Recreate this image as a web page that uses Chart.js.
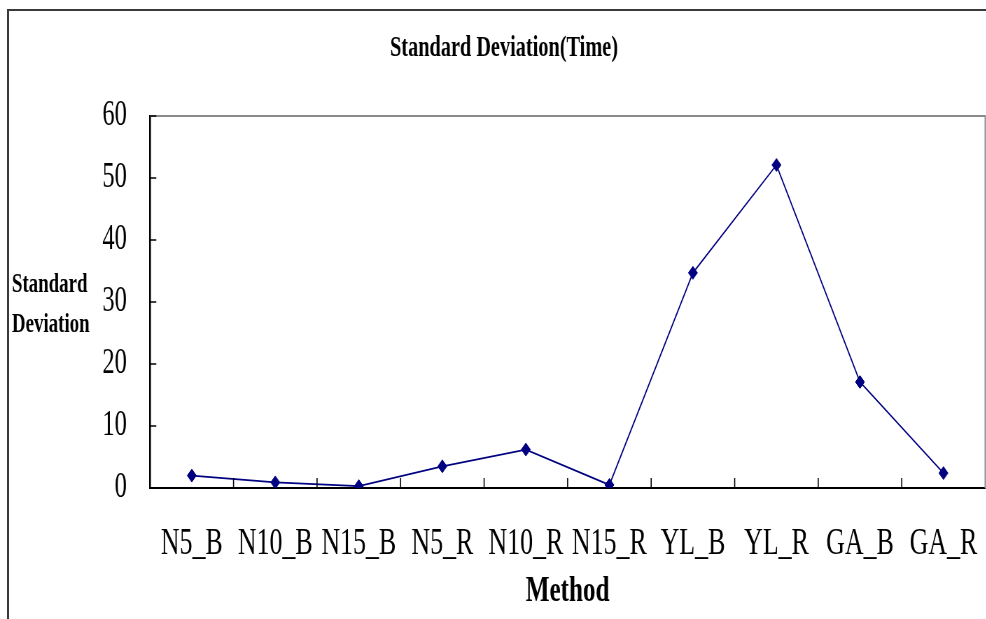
<!DOCTYPE html>
<html>
<head>
<meta charset="utf-8">
<title>Standard Deviation(Time)</title>
<script src="https://cdn.jsdelivr.net/npm/chart.js@4/dist/chart.umd.min.js"></script>
<style>
  html, body { margin: 0; padding: 0; background: #ffffff; }
  body { width: 986px; height: 619px; overflow: hidden; position: relative; }
  #frame {
    position: absolute; left: 7px; top: 9px; width: 1100px; height: 700px;
    border-top: 2px solid #3a3a3a; border-left: 2px solid #3a3a3a;
  }
  #wrap {
    position: absolute; left: 0; top: 0; width: 1415px; height: 619px;
    transform: scaleX(0.7); transform-origin: 0 0;
  }
</style>
</head>
<body>
<div id="frame"></div>
<div id="wrap"><canvas id="chart" width="1415" height="619"></canvas></div>
<script>
// Methods compared along the x axis
const methods = ['N5_B', 'N10_B', 'N15_B', 'N5_R', 'N10_R', 'N15_R', 'YL_B', 'YL_R', 'GA_B', 'GA_R'];
// Standard deviation of the run time for each method
const stdDev = [2.0, 0.9, 0.3, 3.5, 6.2, 0.5, 34.7, 52.1, 17.1, 2.4];
// Value axis range and step
const yMin = 0;
const yMax = 60;
const yStep = 10;

const serif = "'Liberation Serif', 'Times New Roman', serif";

// Grey box on the top and right of the plot, plus short inward tick marks
const plotDecor = {
  id: 'plotDecor',
  afterDraw(chart) {
    const {ctx, chartArea: a, scales} = chart;
    ctx.save();
    ctx.strokeStyle = '#8a8a8a';
    ctx.lineWidth = 2;
    ctx.beginPath();
    ctx.moveTo(a.left, a.top);
    ctx.lineTo(a.right, a.top);
    ctx.lineTo(a.right, a.bottom);
    ctx.stroke();

    ctx.strokeStyle = '#000000';
    ctx.lineWidth = 1.6;
    ctx.beginPath();
    scales.y.ticks.forEach(t => {
      const y = scales.y.getPixelForValue(t.value);
      ctx.moveTo(a.left, y);
      ctx.lineTo(a.left + 9, y);
    });
    for (let i = 1; i < methods.length; i++) {
      const x = scales.x.getPixelForValue(i - 0.5);
      ctx.moveTo(x, a.bottom);
      ctx.lineTo(x, a.bottom - 10);
    }
    ctx.stroke();

    // Horizontal two-line caption of the value axis
    ctx.fillStyle = '#000000';
    ctx.font = 'bold 27px ' + serif;
    ctx.textAlign = 'left';
    ctx.textBaseline = 'alphabetic';
    ctx.fillText('Standard', 17, 292);
    ctx.fillText('Deviation', 17, 332);
    ctx.restore();
  }
};

new Chart(document.getElementById('chart'), {
  type: 'line',
  data: {
    labels: methods,
    datasets: [{
      data: stdDev,
      borderColor: '#000080',
      backgroundColor: '#000080',
      borderWidth: 1.7,
      tension: 0,
      pointStyle: 'rectRot',
      pointRadius: 6.5,
      pointHoverRadius: 6.5,
      pointBackgroundColor: '#000080',
      pointBorderColor: '#000080',
      pointBorderWidth: 1
    }]
  },
  options: {
    responsive: false,
    animation: false,
    devicePixelRatio: 1,
    layout: { padding: { left: 27, right: 2, top: 0, bottom: 0 } },
    plugins: {
      legend: { display: false },
      tooltip: { enabled: false },
      title: {
        display: true,
        text: 'Standard Deviation(Time)',
        color: '#000000',
        font: { family: serif, size: 29, weight: 'bold', lineHeight: 1.2 },
        padding: { top: 31, bottom: 50.2 }
      }
    },
    scales: {
      x: {
        type: 'category',
        offset: true,
        grid: { display: true, drawOnChartArea: false, drawTicks: false, offset: true },
        border: { display: true, color: '#000000', width: 2 },
        ticks: {
          color: '#000000',
          padding: 34,
          maxRotation: 0,
          autoSkip: false,
          font: { family: serif, size: 37, lineHeight: 1.2 }
        },
        title: {
          display: true,
          text: 'Method',
          color: '#000000',
          font: { family: serif, size: 36, weight: 'bold', lineHeight: 1.2 },
          padding: { top: 0, bottom: 6 }
        },
        afterFit(scale) {
          scale.height = 131;
          scale.paddingLeft = 0;
          scale.paddingRight = 0;
        }
      },
      y: {
        min: yMin,
        max: yMax,
        grid: { display: true, drawOnChartArea: false, drawTicks: false },
        border: { display: true, color: '#000000', width: 2.6 },
        ticks: {
          stepSize: yStep,
          color: '#000000',
          padding: 33,
          font: { family: serif, size: 35, lineHeight: 1.2 }
        },
        afterFit(scale) { scale.width = 187.3; }
      }
    }
  },
  plugins: [plotDecor]
});
</script>
</body>
</html>
